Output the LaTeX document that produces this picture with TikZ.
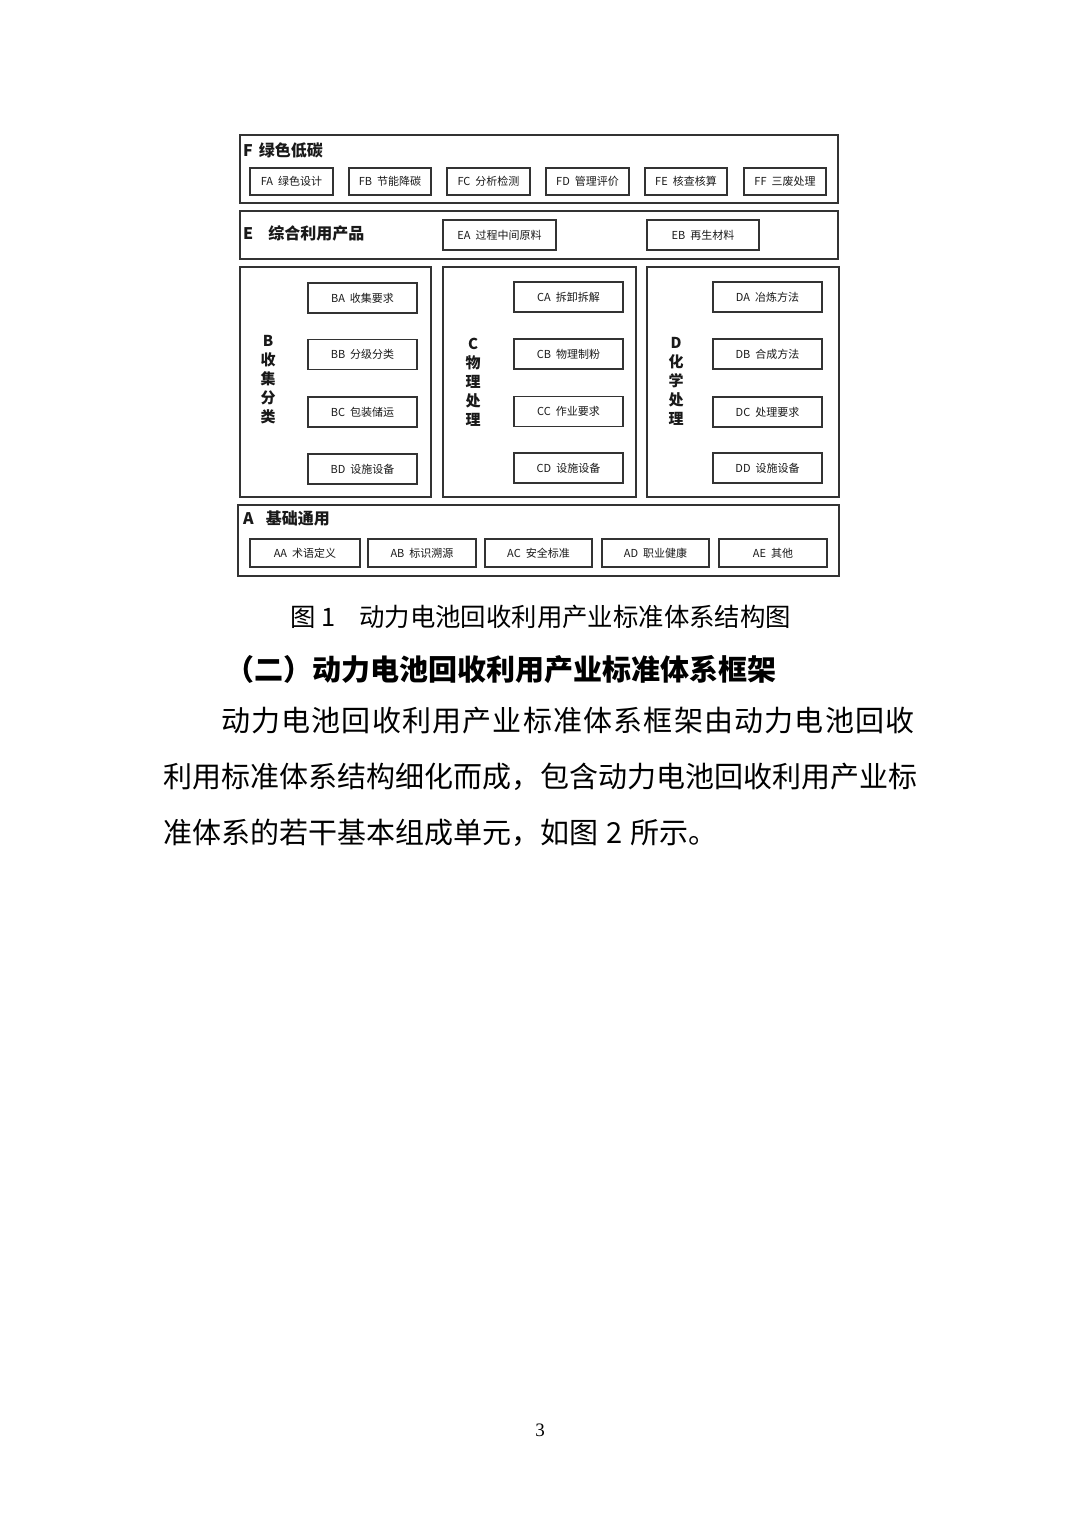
\documentclass[tikz,border=0pt]{standalone}
\usepackage{fontspec}
\setmainfont{Noto Sans CJK SC}
\newfontfamily\pgnumfont{Liberation Serif}
\def\myspread#1{\ifx#1\relax\else#1\hskip1.2pt\relax\expandafter\myspread\fi}
\newcommand\itm[6]{\node[itembox, minimum width=#4pt, minimum height=#5pt] (#1) at (#2,#3) {#1\hspace{5pt}#6};}
\tikzset{
  outerbox/.style={draw=black!80, line width=1.3pt, inner sep=0pt},
  itembox/.style={draw=black!80, line width=1.2pt, inner sep=0pt, text=black!90, font=\fontsize{11}{13}\selectfont},
  grouplabel/.style={inner sep=0pt, anchor=west, text=black!90, font=\fontsize{16}{19}\selectfont\bfseries},
  vlabel/.style={inner sep=0pt, align=center, text=black!90, font=\fontsize{15}{19}\selectfont\bfseries},
  bodyline/.style={inner sep=0pt, anchor=west, font=\fontsize{29}{34}\selectfont}
}
\begin{document}
\begin{tikzpicture}[x=1pt,y=-1pt]
\useasboundingbox (0,0) rectangle (1080,1527);
% outer group boxes
\node[outerbox, minimum width=598pt, minimum height=68pt] (F) at (539,169) {};
\node[outerbox, minimum width=598pt, minimum height=48pt] (E) at (539,235) {};
\node[outerbox, minimum width=191pt, minimum height=230pt] (B) at (335.5,382) {};
\node[outerbox, minimum width=193pt, minimum height=230pt] (C) at (539.5,382) {};
\node[outerbox, minimum width=192pt, minimum height=230pt] (D) at (743,382) {};
\node[outerbox, minimum width=601pt, minimum height=71pt] (A) at (538.5,540.5) {};
% group labels
\node[grouplabel] (Flab) at (243,150) {F\hspace{6pt}绿色低碳};
\node[grouplabel] (Elab) at (243,233) {E\hspace{15pt}综合利用产品};
\node[grouplabel] (Alab) at (243,518) {A\hspace{12pt}基础通用};
\node[vlabel] (Blab) at (268,380) {B\\收\\集\\分\\类};
\node[vlabel] (Clab) at (473,382) {C\\物\\理\\处\\理};
\node[vlabel] (Dlab) at (676,381) {D\\化\\学\\处\\理};
% F items
\itm{FA}{291.5}{181.5}{83}{27}{绿色设计}
\itm{FB}{390}{181.5}{82}{27}{节能降碳}
\itm{FC}{488.5}{181.5}{83}{27}{分析检测}
\itm{FD}{587.5}{181.5}{83}{27}{管理评价}
\itm{FE}{686}{181.5}{82}{27}{核查核算}
\itm{FF}{785}{181.5}{82}{27}{三废处理}
% E items
\itm{EA}{499.5}{235}{113}{30}{过程中间原料}
\itm{EB}{703}{235}{112}{30}{再生材料}
% B items
\itm{BA}{362.5}{298}{109}{30}{收集要求}
\itm{BB}{362.5}{354.5}{109}{30}{分级分类}
\itm{BC}{362.5}{412}{109}{30}{包装储运}
\itm{BD}{362.5}{469}{109}{30}{设施设备}
% C items
\itm{CA}{568.5}{297}{109}{30}{拆卸拆解}
\itm{CB}{568.5}{354}{109}{30}{物理制粉}
\itm{CC}{568.5}{411.5}{109}{30}{作业要求}
\itm{CD}{568.5}{468}{109}{30}{设施设备}
% D items
\itm{DA}{767.5}{297}{109}{30}{冶炼方法}
\itm{DB}{767.5}{354}{109}{30}{合成方法}
\itm{DC}{767.5}{412}{109}{30}{处理要求}
\itm{DD}{767.5}{468}{109}{30}{设施设备}
% A items
\itm{AA}{305}{553}{110}{28}{术语定义}
\itm{AB}{422}{553}{108}{28}{标识溯源}
\itm{AC}{538.5}{553}{107}{28}{安全标准}
\itm{AD}{655.5}{553}{107}{28}{职业健康}
\itm{AE}{773}{553}{108}{28}{其他}
% caption
\node[inner sep=0pt, anchor=west, font=\fontsize{25.4}{30}\selectfont] (cap) at (290,617) {图 1\hspace{24pt}动力电池回收利用产业标准体系结构图};
% heading
\node[inner sep=0pt, anchor=west, font=\fontsize{29}{34}\selectfont\bfseries] (head) at (225,670) {（二）动力电池回收利用产业标准体系框架};
% body
\node[bodyline] (l1) at (221,721) {\myspread 动力电池回收利用产业标准体系框架由动力电池回收\relax};
\node[bodyline] (l2) at (163,777) {利用标准体系结构细化而成，包含动力电池回收利用产业标};
\node[bodyline] (l3) at (163,833) {准体系的若干基本组成单元，如图\hspace{8pt}2\hspace{8pt}所示。};
% page number
\node[inner sep=0pt, font=\pgnumfont\fontsize{19}{22}\selectfont] (pg) at (540,1430) {3};
\end{tikzpicture}
\end{document}
